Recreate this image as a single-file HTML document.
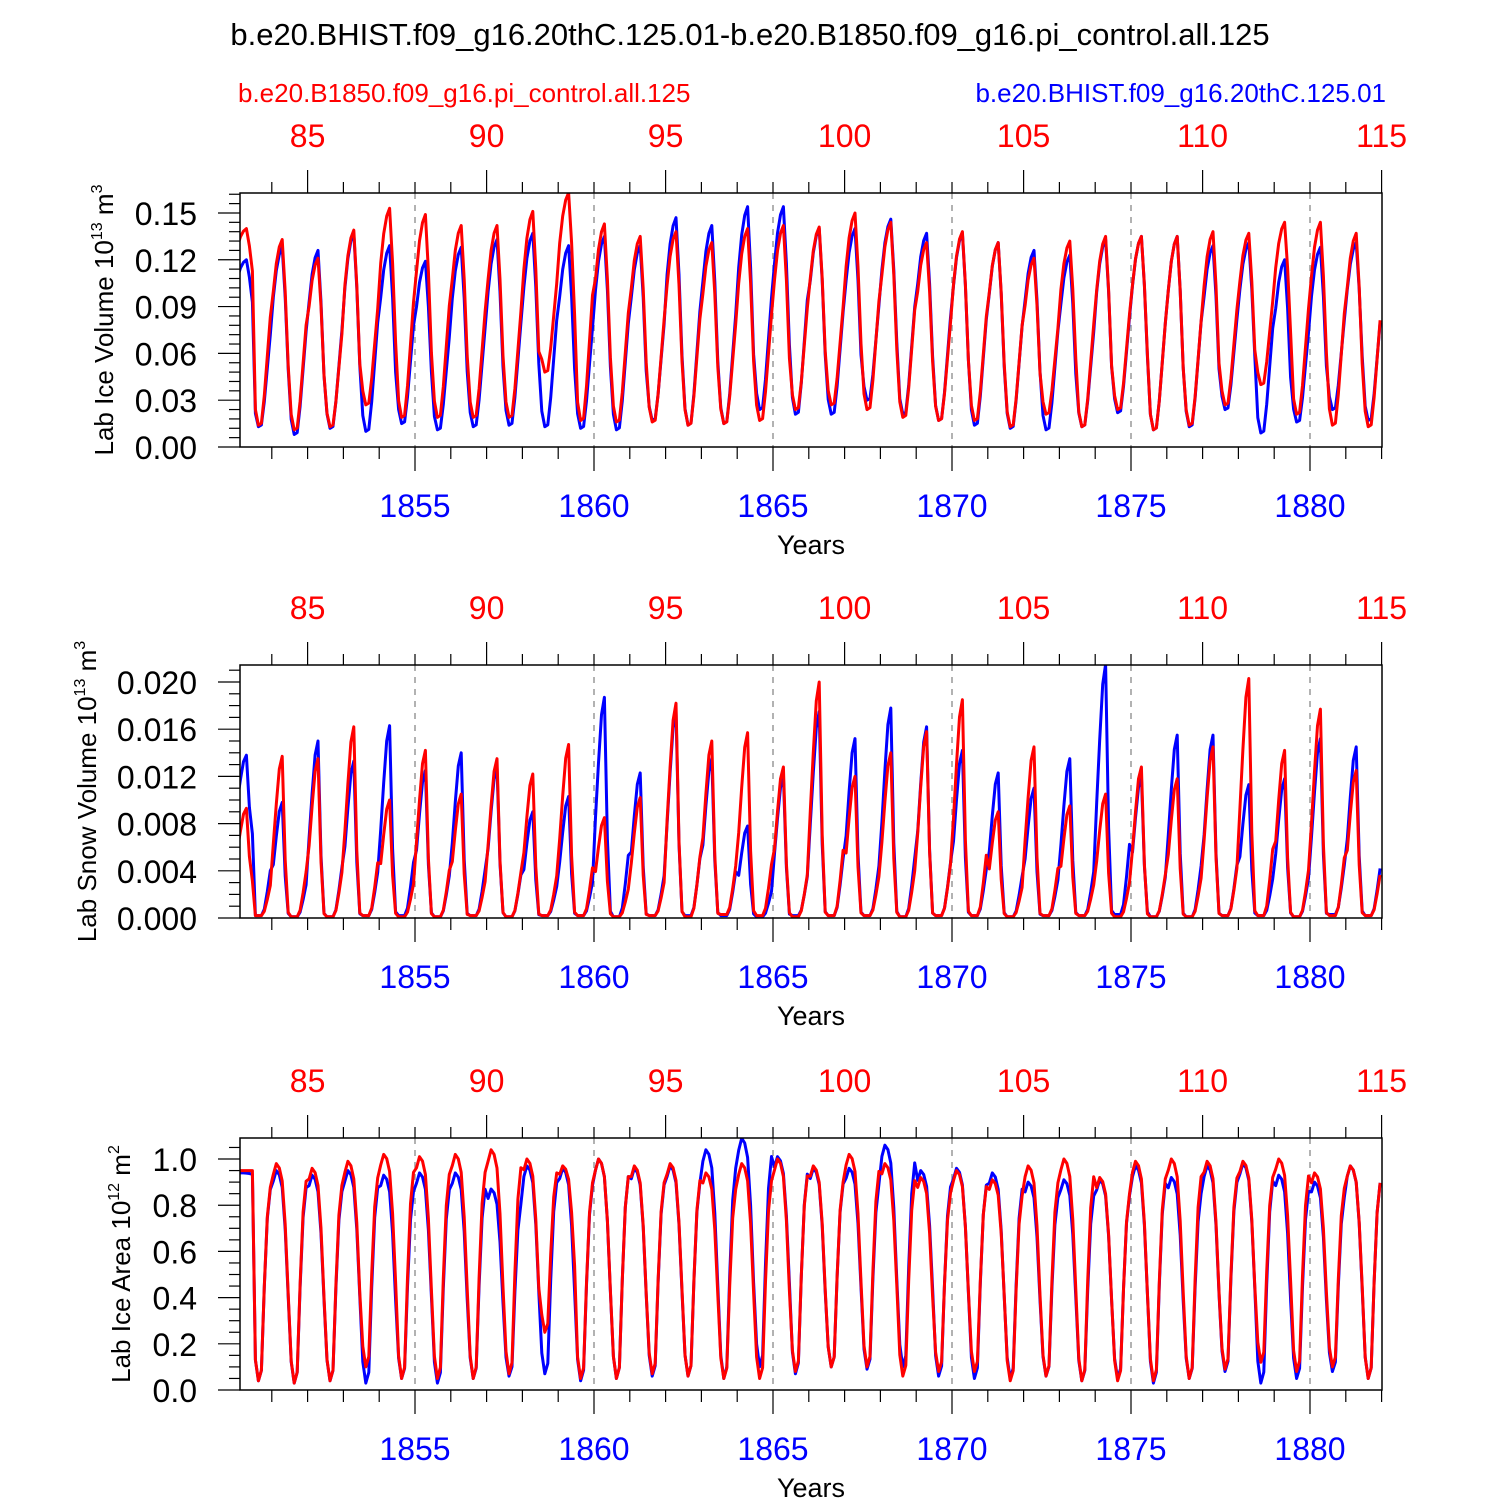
<!DOCTYPE html>
<html><head><meta charset="utf-8">
<style>
html,body{margin:0;padding:0;background:#fff;}
svg{display:block;font-family:"Liberation Sans",Arial,sans-serif;}
</style></head>
<body>
<svg id="chart" width="1500" height="1500" viewBox="0 0 1500 1500" xmlns="http://www.w3.org/2000/svg">
<text x="750" y="45" text-anchor="middle" font-size="31">b.e20.BHIST.f09_g16.20thC.125.01-b.e20.B1850.f09_g16.pi_control.all.125</text>
<text x="238" y="102" font-size="26" fill="#ff0000">b.e20.B1850.f09_g16.pi_control.all.125</text>
<text x="1386" y="102" font-size="26" fill="#0000ff" text-anchor="end">b.e20.BHIST.f09_g16.20thC.125.01</text>
<g id="panels"></g>
</svg>
<script>
// ---- data (per-year peak / trough values, years 1850..1881) ----
const years = [1850,1851,1852,1853,1854,1855,1856,1857,1858,1859,1860,1861,1862,1863,1864,1865,1866,1867,1868,1869,1870,1871,1872,1873,1874,1875,1876,1877,1878,1879,1880,1881];
const topTickLabels = [85,90,95,100,105,110,115];
const bottomTickLabels = [1855,1860,1865,1870,1875,1880];

const volRedPeak = [0.140,0.133,0.121,0.139,0.153,0.149,0.142,0.142,0.151,0.163,0.143,0.135,0.138,0.131,0.140,0.142,0.141,0.150,0.144,0.131,0.138,0.131,0.121,0.132,0.135,0.135,0.135,0.138,0.137,0.144,0.144,0.137];
const volBluePeak = [0.120,0.128,0.126,0.137,0.129,0.119,0.128,0.133,0.137,0.129,0.135,0.129,0.147,0.142,0.154,0.154,0.140,0.140,0.146,0.137,0.137,0.131,0.126,0.123,0.133,0.135,0.135,0.129,0.131,0.120,0.128,0.131];
const volRedTrough = [0.014,0.011,0.013,0.027,0.019,0.019,0.019,0.019,0.048,0.017,0.016,0.016,0.014,0.015,0.017,0.024,0.027,0.024,0.019,0.017,0.017,0.013,0.021,0.013,0.024,0.011,0.014,0.027,0.040,0.021,0.014,0.013];
const volBlueTrough = [0.013,0.008,0.012,0.010,0.015,0.011,0.013,0.014,0.013,0.012,0.011,0.017,0.014,0.015,0.024,0.021,0.021,0.030,0.021,0.017,0.014,0.012,0.011,0.013,0.022,0.011,0.013,0.024,0.009,0.016,0.024,0.017];

const snowRedPeak = [0.0093,0.0137,0.0135,0.0162,0.0100,0.0142,0.0105,0.0135,0.0122,0.0147,0.0085,0.0102,0.0182,0.0150,0.0157,0.0128,0.0200,0.0120,0.0140,0.0158,0.0185,0.0090,0.0145,0.0095,0.0105,0.0128,0.0118,0.0145,0.0203,0.0142,0.0177,0.0125];
const snowBluePeak = [0.0138,0.0098,0.0150,0.0133,0.0163,0.0125,0.0140,0.0128,0.0090,0.0103,0.0187,0.0123,0.0175,0.0135,0.0078,0.0120,0.0175,0.0152,0.0178,0.0162,0.0142,0.0123,0.0110,0.0135,0.0215,0.0120,0.0155,0.0155,0.0113,0.0118,0.0152,0.0145];
const snowRedTrough = [0.0002,0.0001,0.0001,0.0002,0.0001,0.0001,0.0002,0.0001,0.0002,0.0002,0.0001,0.0002,0.0001,0.0003,0.0002,0.0001,0.0002,0.0002,0.0001,0.0002,0.0002,0.0001,0.0002,0.0002,0.0001,0.0001,0.0001,0.0002,0.0002,0.0001,0.0002,0.0002];
const snowBlueTrough = [0.0002,0.0001,0.0001,0.0002,0.0002,0.0001,0.0002,0.0001,0.0002,0.0002,0.0001,0.0002,0.0002,0.0002,0.0001,0.0002,0.0002,0.0002,0.0001,0.0002,0.0002,0.0001,0.0002,0.0002,0.0003,0.0001,0.0001,0.0002,0.0002,0.0001,0.0003,0.0002];

const areaRedPeak = [0.95,0.98,0.96,0.99,1.02,1.01,1.02,1.04,1.00,0.97,1.00,0.97,0.98,0.94,0.98,1.00,0.97,1.02,0.98,0.92,0.95,0.91,0.97,1.00,0.92,0.99,1.00,0.99,0.99,1.00,0.94,0.97];
const areaBluePeak = [0.94,0.95,0.93,0.95,0.93,0.94,0.94,0.87,0.97,0.96,1.00,0.96,0.97,1.04,1.09,1.01,0.96,0.96,1.06,0.95,0.96,0.94,0.90,0.91,0.91,0.97,0.92,0.97,0.98,0.93,0.90,0.97];
const areaRedTrough = [0.04,0.03,0.04,0.10,0.05,0.05,0.05,0.07,0.25,0.05,0.05,0.07,0.06,0.05,0.05,0.08,0.10,0.10,0.06,0.08,0.08,0.04,0.06,0.04,0.04,0.04,0.05,0.09,0.12,0.08,0.10,0.05];
const areaBlueTrough = [0.04,0.03,0.04,0.03,0.05,0.03,0.05,0.06,0.07,0.04,0.05,0.06,0.06,0.05,0.10,0.07,0.10,0.09,0.10,0.06,0.05,0.05,0.06,0.04,0.05,0.03,0.05,0.08,0.03,0.05,0.08,0.05];

// seasonal shape (fraction between trough and peak per month)
const volShape  = [0.72,0.87,0.96,1.0,0.72,0.32,0.08,0.0,0.01,0.15,0.35,0.55];
const snowShape = [0.45,0.70,0.92,1.0,0.35,0.02,0.0,0.0,0.0,0.04,0.15,0.28];
const areaShape = [0.95,1.0,0.98,0.92,0.72,0.40,0.10,0.0,0.05,0.45,0.78,0.92];

const NS='http://www.w3.org/2000/svg';
const root=document.getElementById('panels');
function el(tag,attrs,parent){const e=document.createElementNS(NS,tag);for(const k in attrs)e.setAttribute(k,attrs[k]);(parent||root).appendChild(e);return e;}
const X0=240,X1=1382;
function xScale(t){return 236+(t-1850)*35.8;}

function monthly(peak,trough,shape,start){
  const pts=[];
  for(let i=0;i<years.length;i++){
    for(let m=0;m<12;m++){
      const f=shape[m];
      const base=(m<6)?(i>0?trough[i-1]:start):trough[i];
      pts.push([years[i]+m/12+1/24, base+(peak[i]-base)*f]);
    }
  }
  return pts;
}

const panels=[
 {top:193,bot:447,max:0.1628,major:0.03,minor:0.006,dec:2,tx:113,title:'Lab Ice Volume 10',sup:'13',unit:' m',usup:'3',
  red:monthly(volRedPeak,volRedTrough,volShape,0.10),blue:monthly(volBluePeak,volBlueTrough,volShape,0.08),name:'ice-volume'},
 {top:665,bot:918,max:0.02144,major:0.004,minor:0.001,dec:3,tx:96,title:'Lab Snow Volume 10',sup:'13',unit:' m',usup:'3',
  red:monthly(snowRedPeak,snowRedTrough,snowShape,0.003),blue:monthly(snowBluePeak,snowBlueTrough,snowShape,0.007),name:'snow-volume'},
 {top:1138,bot:1390,max:1.091,major:0.2,minor:0.05,dec:1,tx:130,title:'Lab Ice Area 10',sup:'12',unit:' m',usup:'2',
  red:monthly(areaRedPeak,areaRedTrough,areaShape,0.95),blue:monthly(areaBluePeak,areaBlueTrough,areaShape,0.93),name:'ice-area'}
];

panels.forEach((p,pi)=>{
  const g=el('g',{});
  
  
  const y=v=>p.bot-(v/p.max)*(p.bot-p.top);
  const cid='clip'+pi;
  const cp=el('clipPath',{id:cid},g);el('rect',{x:X0,y:p.top,width:X1-X0,height:p.bot-p.top},cp);
  bottomTickLabels.forEach(v=>{
    const l=el('line',{x1:xScale(v),x2:xScale(v),y1:p.top,y2:p.bot,stroke:'#999',"stroke-width":1.5,"stroke-dasharray":'6,6'},g);
    
    
  });
  [['blue','#0000ff',p.blue],['red','#ff0000',p.red]].forEach(([n,c,pts])=>{
    const d=pts.map((q,i)=>(i?'L':'M')+xScale(q[0]).toFixed(1)+','+y(q[1]).toFixed(1)).join('');
    const path=el('path',{d:d,fill:'none',stroke:c,"stroke-width":3,"stroke-linejoin":'round',"clip-path":'url(#'+cid+')'},g);
    
    
  });
  const fr=el('rect',{x:X0,y:p.top,width:X1-X0,height:p.bot-p.top,fill:'none',stroke:'#000',"stroke-width":1.5},g);
  
  
  for(let t=1851;t<=1882;t++){
    const x=xScale(t);
    const majB=(t%5===0), majT=((t-1852)%5===0);
    el('line',{x1:x,x2:x,y1:p.bot,y2:p.bot+(majB?24:12),stroke:'#000',"stroke-width":1.2},g);
    el('line',{x1:x,x2:x,y1:p.top,y2:p.top-(majT?23:11),stroke:'#000',"stroke-width":1.2},g);
  }
  topTickLabels.forEach(v=>{
    const t=el('text',{x:xScale(1852+v-85),y:p.top-46,"font-size":32,fill:'#ff0000',"text-anchor":'middle'},g);
    t.textContent=v;
    
    
  });
  bottomTickLabels.forEach(v=>{
    const t=el('text',{x:xScale(v),y:p.bot+70,"font-size":32,fill:'#0000ff',"text-anchor":'middle'},g);
    t.textContent=v;
    
    
  });
  const xt=el('text',{x:811,y:p.bot+107,"font-size":27,"text-anchor":'middle'},g);
  xt.textContent='Years';
  
  
  for(let v=0;v<=p.max+1e-9;v+=p.minor){
    const isMaj=Math.abs(v/p.major-Math.round(v/p.major))<1e-6;
    el('line',{x1:X0,x2:X0-(isMaj?22:11),y1:y(v),y2:y(v),stroke:'#000',"stroke-width":1.2},g);
    if(isMaj){
      const t=el('text',{x:X0-43,y:y(v)+12,"font-size":32,"text-anchor":'end'},g);
      t.textContent=v.toFixed(p.dec);
      
      
    }
  }
  const cy=(p.top+p.bot)/2;
  const yt=el('text',{x:0,y:0,"font-size":26,"text-anchor":'middle',transform:'translate('+p.tx+','+cy+') rotate(-90)'},g);
  
  
  const s1=el('tspan',{},yt);s1.textContent=p.title;
  const s2=el('tspan',{"font-size":16,dy:-11},yt);s2.textContent=p.sup;
  const s3=el('tspan',{dy:11},yt);s3.textContent=p.unit;
  const s4=el('tspan',{"font-size":16,dy:-11},yt);s4.textContent=p.usup;
});
</script>
</body></html>
